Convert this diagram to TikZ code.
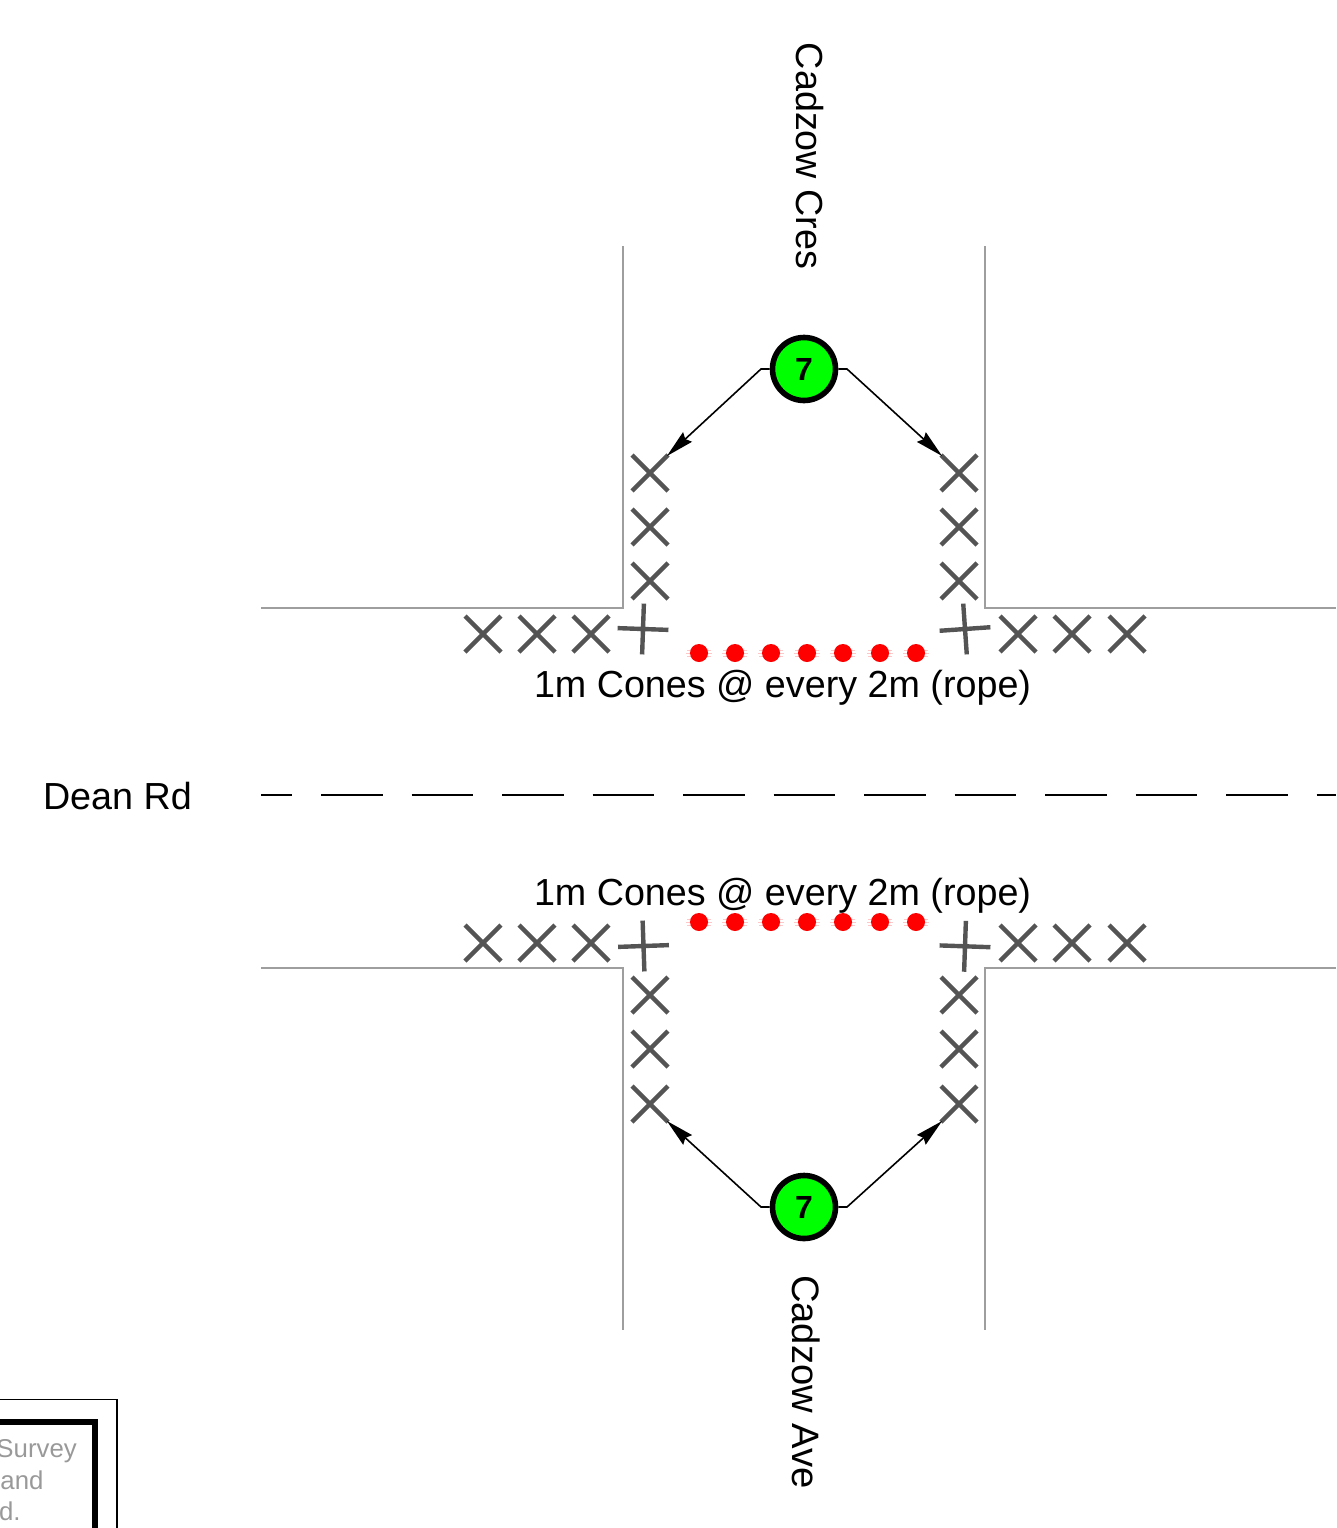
\documentclass[tikz,border=0pt]{standalone}
\usepackage{fontspec}
\setmainfont{Liberation Sans}
\usetikzlibrary{shapes.misc,arrows.meta}
\definecolor{roadgray}{gray}{0.62}
\definecolor{conegray}{gray}{0.33}
\begin{document}
\begin{tikzpicture}[x=1pt,y=-1pt,
  road/.style={draw=roadgray,line width=1.8pt,line join=miter},
  cone/.style={cross out,draw=conegray,line width=4.4pt,minimum size=36pt,inner sep=0pt,outer sep=0pt},
  dot/.style={circle,fill=red,minimum size=18pt,inner sep=0pt,outer sep=0pt},
  halo/.style={draw=red!22,line width=0.8pt},
  sig/.style={circle,draw=black,fill=green,line width=5.6pt,minimum size=63pt,inner sep=0pt,outer sep=2.8pt,font=\bfseries\fontsize{32}{34}\selectfont},
  lead/.style={draw=black,line width=1.6pt,shorten >=-1.5pt,-{Stealth[inset=3pt,length=28pt,width=13pt]}},
  lab/.style={font=\fontsize{37.7}{40}\selectfont,inner sep=0pt,outer sep=0pt,anchor=base west},
  note/.style={font=\fontsize{25.8}{28}\selectfont,text=black!40,inner sep=0pt,outer sep=0pt,anchor=base west}]
\useasboundingbox (0,0) rectangle (1336,1528);
% roads
\draw[road] (261,608) -- (623,608) -- (623,246);
\draw[road] (985,246) -- (985,608) -- (1336,608);
\draw[road] (261,968) -- (623,968) -- (623,1330);
\draw[road] (1336,968) -- (985,968) -- (985,1330);
\draw[black,line width=1.6pt,dash pattern=on 61.5pt off 29pt,dash phase=30.5pt] (261,795) -- (1336,795);
% cones
\foreach \n/\x/\y in {a1/650/473,a2/650/527,a3/650/581,b1/959/473,b2/959/527,b3/959/581,
  c1/483/634,c2/537/634,c3/591/634,d1/1018/634,d2/1072/634,d3/1127/634,
  e1/650/995,e2/650/1049,e3/650/1104,f1/959/995,f2/959/1049,f3/959/1104,
  g1/483/943,g2/537/943,g3/591/943,h1/1018/943,h2/1072/943,h3/1127/943}
  \node[cone] (\n) at (\x,\y) {};
\node[cone,rotate=43] (p1) at (643,629) {};
\node[cone,rotate=49] (p2) at (965,629) {};
\node[cone,rotate=47] (p3) at (643.5,946) {};
\node[cone,rotate=43] (p4) at (965,946.3) {};
% rope dots
\foreach \i/\x in {1/699,2/735,3/771,4/807,5/843,6/880,7/916}{
  \draw[halo] (\x-12,650) -- (\x+12,650) (\x-13,653) -- (\x+13,653) (\x-12,656) -- (\x+12,656);
  \draw[halo] (\x-12,919) -- (\x+12,919) (\x-13,922) -- (\x+13,922) (\x-12,925) -- (\x+12,925);
  \node[dot] (t\i) at (\x,653) {};
  \node[dot] (u\i) at (\x,922) {};
}
% signals
\node[sig] (s1) at (804,369) {7};
\node[sig] (s2) at (804,1207) {7};
\coordinate (k1) at (761,369);
\coordinate (k2) at (847,369);
\coordinate (k3) at (761,1207);
\coordinate (k4) at (847,1207);
\draw[lead] (s1.west) -- (k1) -- (a1.north east);
\draw[lead] (s1.east) -- (k2) -- (b1.north west);
\draw[lead] (s2.west) -- (k3) -- (e3.south east);
\draw[lead] (s2.east) -- (k4) -- (f3.south west);
% labels
\node[lab,rotate=-90] (n1) at (796,43) {Cadzow Cres};
\node[lab,rotate=-90,font=\fontsize{38.2}{40}\selectfont] (n2) at (792,1275) {Cadzow Ave};
\node[lab] (n3) at (43,809) {Dean Rd};
\node[lab] (n4) at (534,697) {1m Cones @ every 2m (rope)};
\node[lab] (n5) at (534,905) {1m Cones @ every 2m (rope)};
% title block corner
\draw[black,line width=1.6pt] (0,1399.5) -- (117,1399.5) -- (117,1528);
\draw[black,line width=6pt] (0,1422) -- (95,1422) -- (95,1528);
\node[note] (m1) at (-3.5,1457) {Survey};
\node[note] (m2) at (0.5,1489) {and};
\node[note] (m3) at (-1,1520) {d.};
\end{tikzpicture}
\end{document}
